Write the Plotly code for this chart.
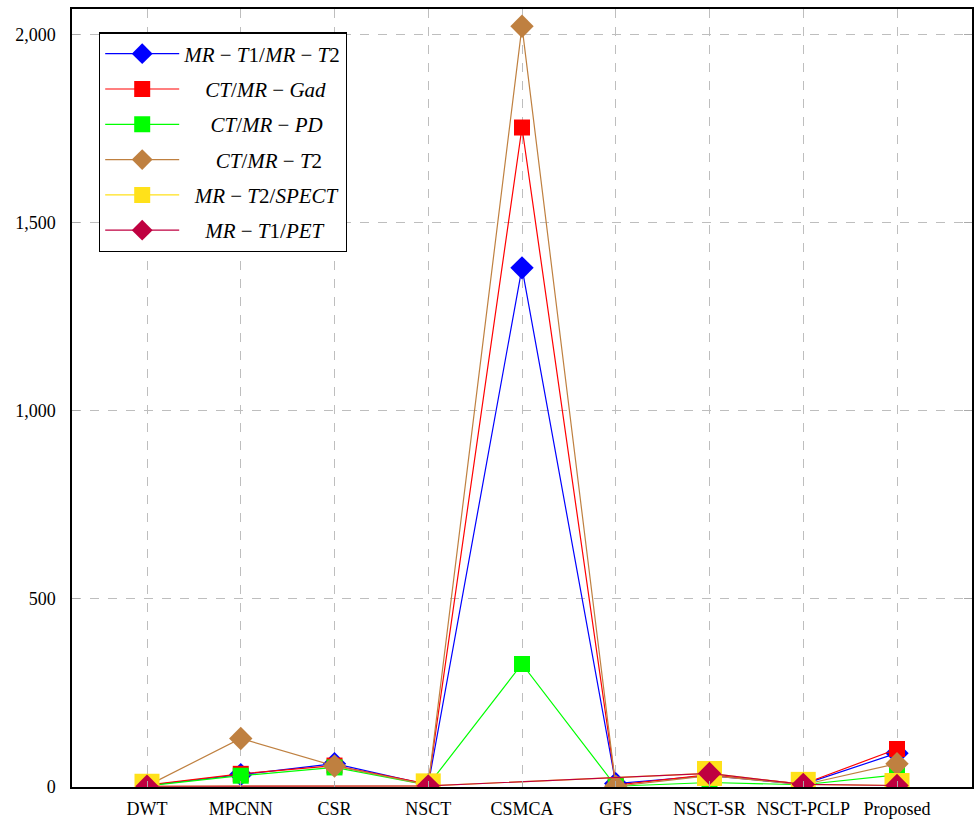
import plotly.graph_objects as go

# Fusion methods compared on the x axis
methods = ["DWT", "MPCNN", "CSR", "NSCT", "CSMCA", "GFS", "NSCT-SR", "NSCT-PCLP", "Proposed"]

# Running time per image pair for each modality combination (None = not reported)
mr_t1_mr_t2 = [4, 33, 62, 6, 1380, 9, 30, 7, 90]
ct_mr_gad = [5, 35, 57, 8, 1753, 5, 33, 8, 101]
ct_mr_pd = [3, 30, 52, 5, 327, 2, 12, 6, 32]
ct_mr_t2 = [3, 129, 56, 5, 2022, 2, 30, 6, 62]
mr_t2_spect = [2, None, None, 3, None, None, 36, 7, 4]
mr_t1_pet = [2, None, None, 3, None, None, 36, 7, 4]

y_ticks = [0, 500, 1000, 1500, 2000]

pad = "\u00a0"
series = [
    (pad * 0 + "<i>MR</i> − <i>T</i>1/<i>MR</i> − <i>T</i>2", mr_t1_mr_t2, "#0000FF", "diamond", 18),
    (pad * 4 + "<i>CT</i>/<i>MR</i> − <i>Gad</i>", ct_mr_gad, "#FF0000", "square", 16),
    (pad * 5 + "<i>CT</i>/<i>MR</i> − <i>PD</i>", ct_mr_pd, "#00FF00", "square", 16),
    (pad * 6 + "<i>CT</i>/<i>MR</i> − <i>T</i>2", ct_mr_t2, "#BF8040", "diamond", 18),
    (pad * 2 + "<i>MR</i> − <i>T</i>2/<i>SPECT</i>", mr_t2_spect, "#FFE11A", "square", 25),
    (pad * 4 + "<i>MR</i> − <i>T</i>1/<i>PET</i>", mr_t1_pet, "#BF0040", "diamond", 18),
]

fig = go.Figure()
for i, (name, vals, color, symbol, size) in enumerate(series):
    fig.add_trace(go.Scatter(
        x=list(range(len(methods))),
        y=vals,
        name=name,
        mode="lines+markers",
        connectgaps=True,
        line=dict(color=color, width=1.2),
        marker=dict(symbol=symbol, size=size, color=color, line=dict(width=0)),
        legendgroup=f"g{i}",
    ))

serif = "Liberation Serif"
fig.update_layout(
    width=976,
    height=820,
    margin=dict(l=72, r=4, t=9, b=33),
    plot_bgcolor="white",
    paper_bgcolor="white",
    font=dict(family=serif, size=18, color="black"),
    showlegend=True,
    legend=dict(
        x=0.03, y=0.97, xanchor="left", yanchor="top",
        bgcolor="white", bordercolor="black", borderwidth=1.2,
        font=dict(family=serif, size=21, color="black"),
        traceorder="grouped", tracegroupgap=5,
        itemwidth=74,
    ),
    xaxis=dict(
        range=[-0.8, 8.8],
        tickmode="array",
        tickvals=list(range(len(methods))),
        ticktext=methods,
        showgrid=True, gridcolor="#BEBEBE", griddash="dash", gridwidth=1.3,
        showline=True, linecolor="black", linewidth=1.5, mirror=True,
        ticks="inside", ticklen=6, tickcolor="#AAAAAA",
        zeroline=False,
        automargin=False,
        ticklabelstandoff=5,
        tickfont=dict(family=serif, size=18),
    ),
    yaxis=dict(
        range=[0, 2068],
        tickmode="array",
        tickvals=y_ticks,
        tickformat=",d",
        showgrid=True, gridcolor="#BEBEBE", griddash="dash", gridwidth=1.3,
        showline=True, linecolor="black", linewidth=1.5, mirror="allticks",
        ticks="inside", ticklen=8, tickcolor="#AAAAAA",
        zeroline=False,
        automargin=False,
        ticklabelstandoff=11,
        tickfont=dict(family=serif, size=18),
    ),
)

fig.write_html("out.html")
